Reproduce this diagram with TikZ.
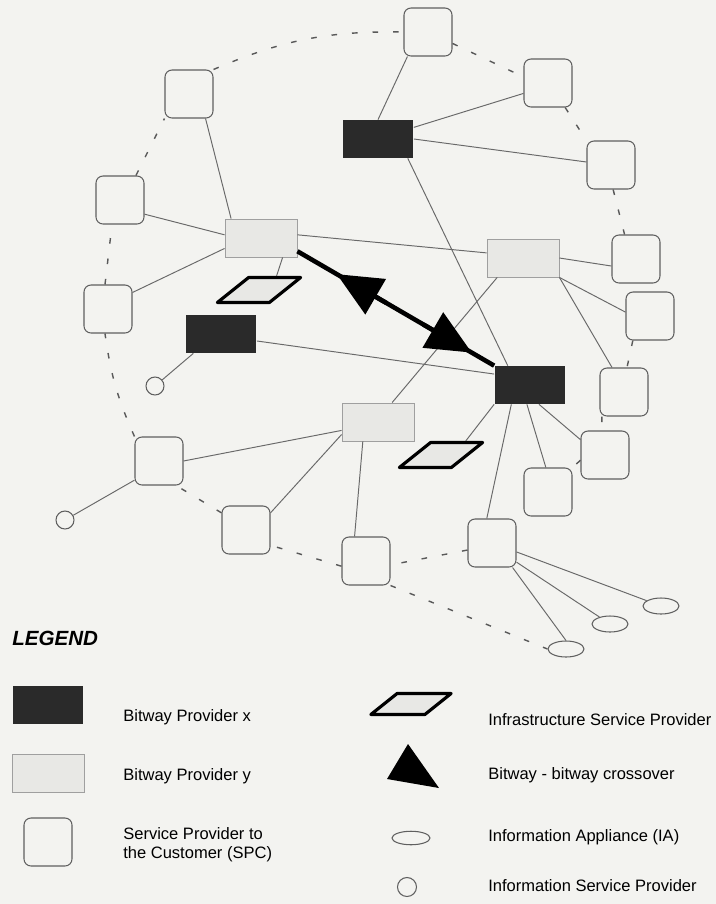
\documentclass[tikz,border=0pt]{standalone}
\usepackage{fontspec}
\setmainfont{Liberation Sans}
\usepackage{xcolor}
\usepackage{tikz}
\usetikzlibrary{calc,shapes.geometric,arrows.meta}
\definecolor{paper}{RGB}{243,243,240}
\definecolor{bitx}{RGB}{42,42,42}
\definecolor{bity}{RGB}{232,232,229}
\definecolor{wiregray}{RGB}{105,105,105}
\definecolor{boxedge}{RGB}{95,95,95}

\begin{document}
\begin{tikzpicture}[x=0.02cm, y=-0.02cm,
    spc/.style={rectangle, rounded corners=0.14cm, draw=boxedge,
                line width=0.6pt, fill=paper, minimum width=0.96cm,
                minimum height=0.96cm, inner sep=0pt},
    bwx/.style={rectangle, fill=bitx, minimum width=1.42cm,
                minimum height=0.76cm, inner sep=0pt},
    bwy/.style={rectangle, draw=boxedge!60, line width=0.5pt, fill=bity,
                minimum width=1.44cm, minimum height=0.76cm, inner sep=0pt},
    infra/.style={rectangle, xslant=1.25, draw=black, line width=1.8pt,
                line join=round, fill=bity, minimum width=1.04cm,
                minimum height=0.5cm, inner sep=0pt},
    appl/.style={ellipse, draw=boxedge, line width=0.6pt, fill=paper,
                minimum width=0.72cm, minimum height=0.32cm, inner sep=0pt},
    isvc/.style={circle, draw=boxedge, line width=0.6pt, fill=paper,
                minimum size=0.36cm, inner sep=0pt},
    wire/.style={draw=wiregray, line width=0.55pt},
    ring/.style={draw=wiregray!85!black, line width=0.8pt,
                dash pattern=on 3.2pt off 8.5pt},
    bitlink/.style={line width=2.6pt, black},
    xover/.style={line width=2.6pt, black,
                -{Triangle[length=0.9cm, width=0.8cm]}},
    lbl/.style={font=\fontsize{9.4}{10.4}\selectfont, anchor=base west,
                inner sep=0pt, align=left}]

    \useasboundingbox (0,0) rectangle (716,904);
    \fill[paper] (0,0) rectangle (716,904);

    % Service providers to the customer
    \node[spc] (sp1)  at (189, 94) {};
    \node[spc] (sp2)  at (428, 32) {};
    \node[spc] (sp3)  at (548, 83) {};
    \node[spc] (sp4)  at (611,165) {};
    \node[spc] (sp5)  at (120,200) {};
    \node[spc] (sp6)  at (636,259) {};
    \node[spc] (sp7)  at (108,309) {};
    \node[spc] (sp8)  at (650,316) {};
    \node[spc] (sp9)  at (624,392) {};
    \node[spc] (sp10) at (605,455) {};
    \node[spc] (sp11) at (548,492) {};
    \node[spc] (sp12) at (159,461) {};
    \node[spc] (sp13) at (246,530) {};
    \node[spc] (sp14) at (366,561) {};
    \node[spc] (sp15) at (492,543) {};

    % Bitway providers
    \node[bwx] (bx1) at (378,139) {};
    \node[bwx] (bx2) at (221,334) {};
    \node[bwx] (bx3) at (530,385) {};
    \node[bwy] (by1) at (261,238) {};
    \node[bwy] (by2) at (523,258) {};
    \node[bwy] (by3) at (378,422) {};

    % Infrastructure, appliances, information services
    \node[infra] (inf1) at (259,290) {};
    \node[infra] (inf2) at (441,455) {};
    \node[appl] (ia1) at (661,606) {};
    \node[appl] (ia2) at (610,624) {};
    \node[appl] (ia3) at (566,649) {};
    \node[isvc] (isp1) at (155,386) {};
    \node[isvc] (isp2) at (65,520) {};

    % Links
    \draw[wire] (sp1.-56) -- (by1.147);
    \draw[wire] (sp5.-30) -- (by1.175);
    \draw[wire] (sp7.34) -- (by1.196);
    \draw[wire] (by1.5) -- (by2.172);
    \draw[wire] (by1.-42) -- (inf1.north);
    \draw[wire] (sp2.230) -- (bx1.north);
    \draw[wire] (bx1.18) -- (sp3.203);
    \draw[wire] (bx1.east) -- (sp4.173);
    \draw[wire] (bx1.-33) -- (bx3.139);
    \draw[wire] (bx2.-11) -- (bx3.163);
    \draw[wire] (bx2.215) -- (isp1);
    \draw[wire] (by2.east) -- (sp6.196);
    \draw[wire] (by2.south east) -- (sp8.171);
    \draw[wire] (by2.south east) -- (sp9.116);
    \draw[wire] (by2.217) -- (by3.54);
    \draw[wire] (bx3.-65) -- (sp10.148);
    \draw[wire] (bx3.261) -- (sp11.95);
    \draw[wire] (bx3.226) -- (sp15.102);
    \draw[wire] (bx3.south west) -- (inf2.63);
    \draw[wire] (by3.193) -- (sp12.east);
    \draw[wire] (by3.199) -- (sp13.35);
    \draw[wire] (by3.232) -- (sp14.115);
    \draw[wire] (sp12.218) -- (isp2);
    \draw[wire] (sp15.-20) -- (ia1);
    \draw[wire] (sp15.-38) -- (ia2);
    \draw[wire] (sp15.-50) -- (ia3.north);

    % Dashed ring
    \draw[ring] (sp1.north east) to[bend left=12] (sp2.west);
    \draw[ring] (sp2.-25) -- (sp3.166);
    \draw[ring] (sp3.-55) -- (sp4.north west);
    \draw[ring] (sp4.-85) -- (sp6.115);
    \draw[ring] (sp8.235) -- (sp9.83);
    \draw[ring] (sp9.228) -- (sp10.97);
    \draw[ring] (sp10.192) -- (sp11.north east);
    \draw[ring] (sp15.196) -- (sp14.-9);
    \draw[ring] (sp14.192) -- (sp13.-32);
    \draw[ring] (sp13.145) -- (sp12.-55);
    \draw[ring] (sp12.north west) to[bend left=8] (sp7.263);
    \draw[ring] (sp7.97) -- (sp5.252);
    \draw[ring] (sp5.57) -- (sp1.south west);
    \draw[ring] (sp14.south east) -- (ia3.west);

    % Bitway - bitway crossover
    \draw[bitlink] (by1.-20) -- (bx3.north west);
    \draw[xover] ($(by1.-20)!0.45!(bx3.north west)$)
                 -- ($(by1.-20)!0.2!(bx3.north west)$);
    \draw[xover] ($(by1.-20)!0.64!(bx3.north west)$)
                 -- ($(by1.-20)!0.886!(bx3.north west)$);

    % Legend
    \node[font=\bfseries\itshape\fontsize{11.7}{14}\selectfont,
          anchor=base west, inner sep=0pt] (legend) at (12,645) {LEGEND};
    \node[bwx] (lgx) at (48,705) {};
    \node[lbl] (lgxt) at (123,721) {Bitway Provider x};
    \node[bwy] (lgy) at (48,773) {};
    \node[lbl] (lgyt) at (123,780) {Bitway Provider y};
    \node[spc] (lgs) at (48,842) {};
    \node[lbl] (lgst) at (123,858) {Service Provider to\\the Customer (SPC)};
    \node[infra, minimum width=1.08cm, minimum height=0.42cm] (lginf) at (411,704) {};
    \node[lbl] (lginft) at (488,725) {Infrastructure Service Provider};
    \fill[black] (408,744) -- (387,779) -- (439,788) -- cycle;
    \node[lbl] (lgxot) at (488,779) {Bitway - bitway crossover};
    \node[appl, minimum width=0.76cm, minimum height=0.27cm] (lgia) at (411,838) {};
    \node[lbl] (lgiat) at (488,841) {Information Appliance (IA)};
    \node[isvc, minimum size=0.38cm] (lgisp) at (407,887) {};
    \node[lbl] (lgispt) at (488,891) {Information Service Provider};

\end{tikzpicture}
\end{document}
